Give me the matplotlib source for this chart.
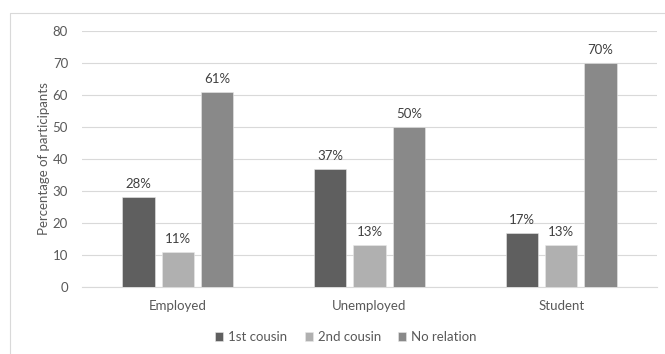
import numpy as np
import matplotlib
matplotlib.use("Agg")
import matplotlib.pyplot as plt
from matplotlib.lines import Line2D

# data
categories = ["Employed", "Unemployed", "Student"]
series_names = ["1st cousin", "2nd cousin", "No relation"]
first_cousin = [28, 37, 17]
second_cousin = [11, 13, 13]
no_relation = [61, 50, 70]

colors = ["#5f5f5f", "#b0b0b0", "#898989"]
text_color = "#595959"

plt.rcParams["font.family"] = ["Lato", "DejaVu Sans"]

fig = plt.figure(figsize=(6.65, 3.54), dpi=100)
ax = fig.add_axes([82 / 665, 1 - 287 / 354, 575 / 665, 256 / 354])

# chart frame (only left and top edges visible in the crop)
fx, fy = 10 / 665, 1 - 13 / 354
fig.lines.append(Line2D([fx, fx, 1.0], [0.0, fy, fy], transform=fig.transFigure,
                        color="#d9d9d9", lw=0.8))

x = np.arange(len(categories))
w = 0.168
step = 0.205
for i, (vals, name) in enumerate(zip([first_cousin, second_cousin, no_relation], series_names)):
    pos = x + (i - 1) * step
    bars = ax.bar(pos, vals, w, color=colors[i], label=name,
                  edgecolor="#e8e8e8", linewidth=0.4, zorder=3)
    for b, v in zip(bars, vals):
        ax.text(b.get_x() + b.get_width() / 2, v + 2.2, f"{v}%",
                ha="center", va="bottom", fontsize=9.5, color="#404040")

ax.set_xlim(-0.5, 2.5)
ax.set_ylim(0, 80)
ax.set_yticks(range(0, 81, 10))
ax.set_xticks(x)
ax.set_xticklabels(categories)
ax.grid(axis="y", color="#d9d9d9", lw=0.8, zorder=0)
for s in ["top", "right", "left"]:
    ax.spines[s].set_visible(False)
ax.spines["bottom"].set_color("#d9d9d9")
ax.tick_params(axis="both", length=0, labelsize=9.5, colors=text_color, pad=10)
ax.tick_params(axis="x", pad=9)
ax.set_ylabel("Percentage of participants", fontsize=9.5, color=text_color, labelpad=2)

fig.legend(*ax.get_legend_handles_labels(), loc="center",
           bbox_to_anchor=(346 / 665, 1 - 337 / 354), ncol=3, frameon=False,
           fontsize=9.5, labelcolor=text_color, handlelength=0.6, handleheight=0.6,
           handletextpad=0.4, columnspacing=1.3)

fig.savefig("out.png", dpi=100)
